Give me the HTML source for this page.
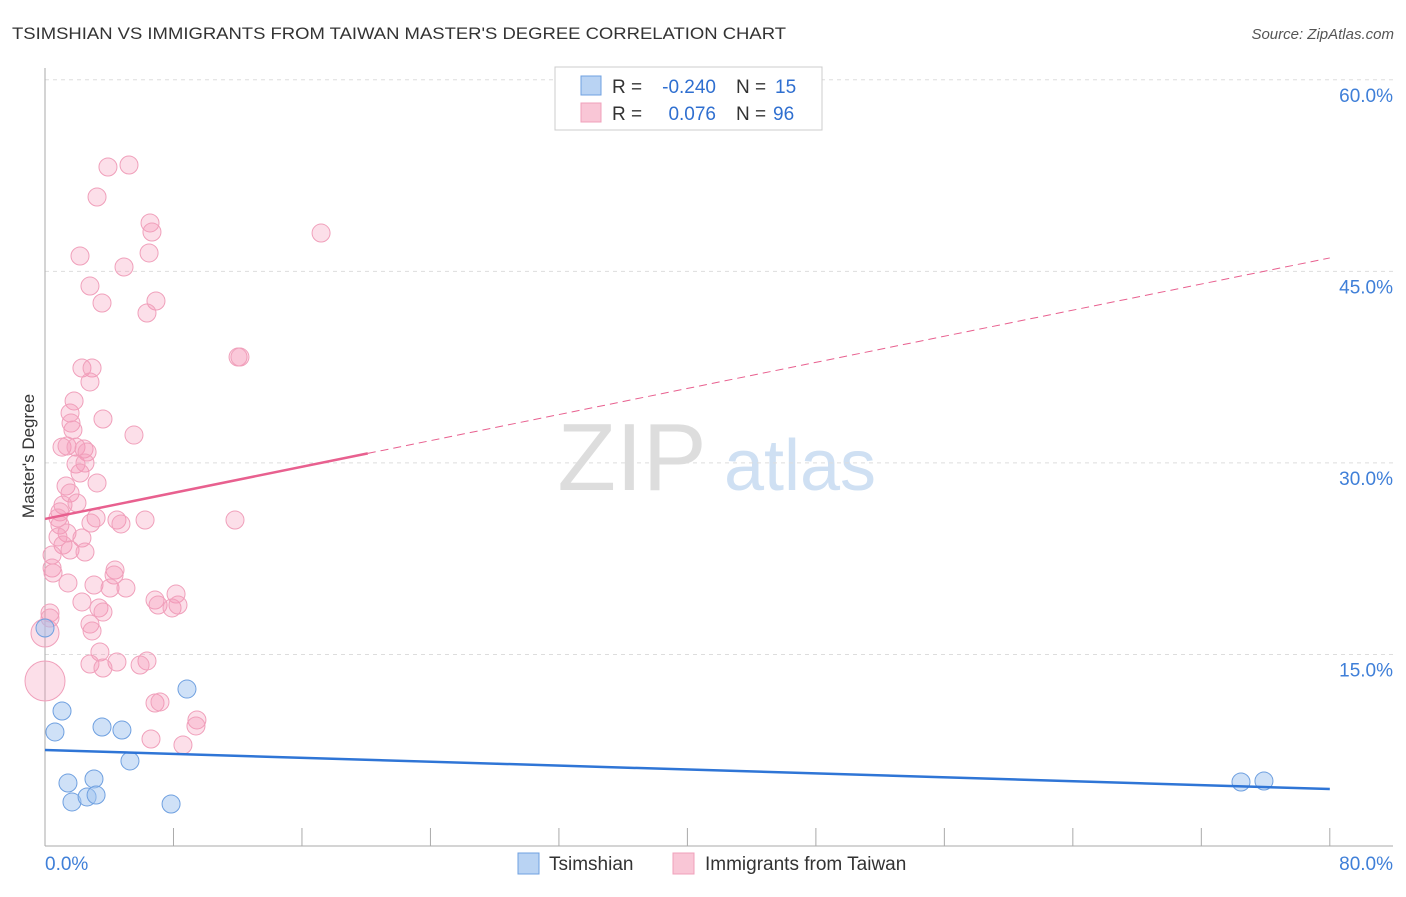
<!DOCTYPE html>
<html><head><meta charset="utf-8"><style>
body{margin:0;background:#fff;font-family:"Liberation Sans",sans-serif}
svg text{font-family:"Liberation Sans",sans-serif}
</style></head><body>
<svg id="chart" width="1406" height="892">
<text x="12" y="39" font-size="17" fill="#333" textLength="774" lengthAdjust="spacingAndGlyphs">TSIMSHIAN VS IMMIGRANTS FROM TAIWAN MASTER'S DEGREE CORRELATION CHART</text>
<text x="1394" y="39" font-size="15" fill="#555" font-style="italic" text-anchor="end">Source: ZipAtlas.com</text>
<g>
<text x="632" y="490" font-size="96" fill="#ddd" font-family="Liberation Serif" text-anchor="middle">ZIP</text>
<text x="800" y="490" font-size="72" fill="#cfe0f3" text-anchor="middle">atlas</text>
</g>
<g id="grid"></g>
<g id="axes"></g>
<g id="marks"></g>
<text transform="translate(34,456) rotate(-90)" font-size="17" fill="#333" text-anchor="middle">Master's Degree</text>
<g>
<rect x="555" y="67" width="267" height="63" fill="#fff" stroke="#ccc"/>
<rect x="581" y="76" width="20" height="19" fill="#b9d3f3" stroke="#6fa0e0"/>
<rect x="581" y="103" width="20" height="19" fill="#f9c6d6" stroke="#f0a0bb"/>
<text x="612" y="93" font-size="19" fill="#333">R =</text>
<text x="716" y="93" font-size="19" fill="#2f6fd0" text-anchor="end">-0.240</text>
<text x="736" y="93" font-size="19" fill="#333">N =</text>
<text x="775" y="93" font-size="19" fill="#2f6fd0">15</text>
<text x="612" y="120" font-size="19" fill="#333">R =</text>
<text x="716" y="120" font-size="19" fill="#2f6fd0" text-anchor="end">0.076</text>
<text x="736" y="120" font-size="19" fill="#333">N =</text>
<text x="773" y="120" font-size="19" fill="#2f6fd0">96</text>
</g>
<g>
<rect x="518" y="853" width="21" height="21" fill="#b9d3f3" stroke="#6fa0e0"/>
<text x="549" y="870" font-size="19" fill="#333">Tsimshian</text>
<rect x="673" y="853" width="21" height="21" fill="#f9c6d6" stroke="#f0a0bb"/>
<text x="705" y="870" font-size="19" fill="#333">Immigrants from Taiwan</text>
</g>
</svg>
<script>
const yTicks=[15,30,45,60];
const yTickLabels=["15.0%","30.0%","45.0%","60.0%"];
const xTicks=[8,16,24,32,40,48,56,64,72,80];
const pinkX=[3.92,5.23,3.24,6.54,6.66,17.19,2.18,6.48,4.92,2.80,3.55,6.91,6.35,12.02,12.14,2.30,2.93,2.80,1.81,1.56,3.61,1.62,1.74,5.54,1.06,1.37,1.93,2.43,2.62,1.93,2.49,2.18,1.31,3.24,1.56,1.12,0.93,1.99,0.81,3.18,4.48,4.73,0.93,2.86,6.23,11.83,1.37,0.81,2.30,1.12,1.56,2.49,0.44,0.44,0.50,1.43,3.05,4.36,4.30,4.05,5.04,6.85,7.04,2.30,8.16,7.91,8.28,3.36,3.61,0.31,0.31,2.80,2.93,3.42,4.48,2.80,3.61,6.35,5.92,6.85,7.16,9.46,9.40,6.60,8.59,0,0];
const pinkY=[53.17,53.33,50.82,48.79,48.08,48.00,46.20,46.44,45.34,43.85,42.52,42.68,41.74,38.29,38.29,37.43,37.43,36.34,34.85,33.91,33.44,33.12,32.58,32.18,31.24,31.32,31.24,31.09,30.85,29.91,29.99,29.21,28.19,28.43,27.64,26.70,26.16,26.86,25.69,25.69,25.53,25.22,25.14,25.29,25.53,25.53,24.51,24.20,24.12,23.57,23.18,23.02,22.79,21.77,21.38,20.60,20.44,21.61,21.22,20.20,20.20,19.26,18.87,19.11,19.73,18.64,18.87,18.64,18.32,18.25,17.85,17.38,16.84,15.19,14.41,14.25,13.94,14.49,14.17,11.20,11.28,9.87,9.40,8.38,7.91,12.92,16.68];
const pinkR=pinkX.map((_,i)=>i===pinkX.length-2?20:(i===pinkX.length-1?14:9));
const blueX=[8.84,1.06,0.62,3.55,4.79,5.29,1.43,3.05,1.68,2.62,3.18,7.85,0,74.47,75.90];
const blueY=[12.29,10.57,8.93,9.32,9.08,6.66,4.93,5.25,3.45,3.84,3.99,3.29,17.07,5.01,5.09];
const pinkTrend=[25.61,46.05];
const blueTrend=[7.52,4.46];
const pinkSolidEnd=20.1;
const X=v=>45+v*16.06, Y=v=>846-v*12.77;
const NS="http://www.w3.org/2000/svg";
function mk(parent,tag,attrs){const e=document.createElementNS(NS,tag);for(const k in attrs)e.setAttribute(k,attrs[k]);document.getElementById(parent).appendChild(e);return e;}
yTicks.forEach((t,i)=>{
 const g=mk('grid','line',{x1:45,x2:1393,y1:Y(t),y2:Y(t),stroke:'#ddd','stroke-dasharray':'4,4'});
 
 
 const l=mk('grid','text',{x:1393,y:Y(t)+22,'font-size':19,fill:'#3f7fd8','text-anchor':'end'});
 l.textContent=yTickLabels[i];
 
 
});
const ya=mk('axes','line',{x1:45,x2:45,y1:68,y2:846,stroke:'#aaa'});


const xa=mk('axes','line',{x1:45,x2:1393,y1:846,y2:846,stroke:'#aaa'});


xTicks.forEach(t=>{
 const k=mk('axes','line',{x1:X(t),x2:X(t),y1:828,y2:846,stroke:'#aaa'});
 
 
});
[[0,'0.0%','start',45],[80,'80.0%','end',1393]].forEach(a=>{
 const l=mk('axes','text',{x:a[3],y:870,'font-size':19,fill:'#3f7fd8','text-anchor':a[2]});
 l.textContent=a[1];
 
 
});
pinkX.forEach((x,i)=>{
 const c=mk('marks','circle',{cx:X(x),cy:Y(pinkY[i]),r:pinkR[i],fill:'rgba(244,150,182,0.3)',stroke:'#f0a0bb','stroke-width':1});
 
 
});
blueX.forEach((x,i)=>{
 const c=mk('marks','circle',{cx:X(x),cy:Y(blueY[i]),r:9,fill:'rgba(160,196,240,0.5)',stroke:'#6fa0e0','stroke-width':1});
 
 
});
const py=x=>pinkTrend[0]+(pinkTrend[1]-pinkTrend[0])*x/80;
const p1=mk('marks','line',{x1:X(0),y1:Y(py(0)),x2:X(pinkSolidEnd),y2:Y(py(pinkSolidEnd)),stroke:'#e8608f','stroke-width':2.5});


const p2=mk('marks','line',{x1:X(pinkSolidEnd),y1:Y(py(pinkSolidEnd)),x2:X(80),y2:Y(py(80)),stroke:'#e8608f','stroke-width':1,'stroke-dasharray':'8,5'});


const b1=mk('marks','line',{x1:X(0),y1:Y(blueTrend[0]),x2:X(80),y2:Y(blueTrend[1]),stroke:'#2f75d6','stroke-width':2.5});


</script>
</body></html>
